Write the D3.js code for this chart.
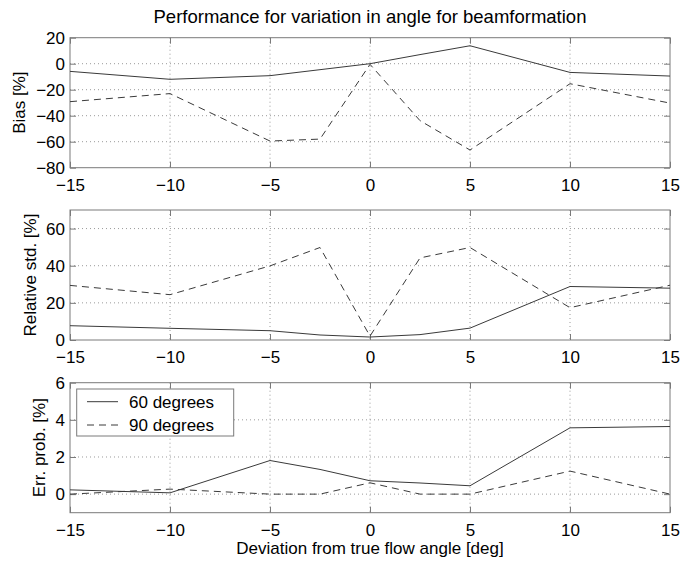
<!DOCTYPE html>
<html>
<head>
<meta charset="utf-8">
<script src="https://cdn.jsdelivr.net/npm/d3@7"></script>
<style>
  body { margin: 0; background: #fff; }
  text { font-family: "Liberation Sans", Arial, sans-serif; fill: #000; }
</style>
</head>
<body>
<svg id="chart" width="681" height="563"></svg>
<script>
// angles (deg) at which the runs were made
const angles = [-15, -10, -5, -2.5, 0, 2.5, 5, 10, 15];

// bias [%]
const bias60 = [-5.9, -12, -9.2, -4.6, 0, 7, 13.8, -6.7, -9.5];
const bias90 = [-29.2, -23, -59.5, -58, -0.5, -43.8, -66.4, -15.4, -30.3];

// relative std. [%]
const std60 = [7.7, 6.3, 5, 2.7, 1.6, 2.9, 6.4, 28.8, 27.9];
const std90 = [29.4, 24.4, 39.9, 49.8, 2.1, 44.2, 49.8, 17.4, 29.5];

// error probability [%]
const err60 = [0.23, 0.07, 1.81, 1.33, 0.72, 0.6, 0.45, 3.57, 3.64];
const err90 = [0, 0.27, 0, 0, 0.61, 0, 0, 1.24, 0];

const xTicks = [-15, -10, -5, 0, 5, 10, 15];
const seriesNames = ['60 degrees', '90 degrees'];

const panels = [
  { label: 'Bias [%]',          domain: [-80, 20], ticks: [-80, -60, -40, -20, 0, 20], a: bias60, b: bias90, top: 37.7, labelX: 25 },
  { label: 'Relative std. [%]', domain: [0, 70],   ticks: [0, 20, 40, 60],             a: std60,  b: std90,  top: 210,  labelX: 36 },
  { label: 'Err. prob. [%]',    domain: [-1, 6],   ticks: [0, 2, 4, 6],                a: err60,  b: err90,  top: 382.7, labelX: 45 }
];

const option =
  {
    left: 70,
    right: 670,
    height: 130,
    tick: 6,
    font: 17,
    axis: '#7a7a7a',
    grid: '#9a9a9a',
    line: '#3a3a3a',
    dash: '7,5'
  };

const fmt = d => d < 0 ? '\u2212' + Math.abs(d) : String(d);

const svg = d3.select('#chart');

const x = d3.scaleLinear().domain([-15, 15]).range([option.left, option.right]);

svg.append('text')
  .text('Performance for variation in angle for beamformation')
  .attr('x', (option.left + option.right) / 2)
  .attr('y', 23)
  .attr('font-size', 18.5)
  .attr('text-anchor', 'middle');

panels.forEach((p, k) =>
{
  const bottom = p.top + option.height;
  const y = d3.scaleLinear().domain(p.domain).range([bottom, p.top]);
  const g = svg.append('g');

  // dotted grid
  g.selectAll('line.gx')
    .data(xTicks.slice(1, -1))
    .join('line')
    .attr('x1', d => x(d)).attr('x2', d => x(d))
    .attr('y1', p.top).attr('y2', bottom)
    .attr('stroke', option.grid).attr('stroke-dasharray', '1,3');

  g.selectAll('line.gy')
    .data(p.ticks.filter(t => t > p.domain[0] && t < p.domain[1]))
    .join('line')
    .attr('x1', option.left).attr('x2', option.right)
    .attr('y1', d => y(d)).attr('y2', d => y(d))
    .attr('stroke', option.grid).attr('stroke-dasharray', '1,3');

  // axes, ticks inward, mirrored on the box
  const bx = g.append('g').attr('transform', `translate(0 ${ bottom })`)
    .call(d3.axisBottom(x).tickValues(xTicks).tickFormat(fmt).tickSizeInner(-option.tick).tickSizeOuter(0).tickPadding(11));
  const tx = g.append('g').attr('transform', `translate(0 ${ p.top })`)
    .call(d3.axisTop(x).tickValues(xTicks).tickFormat('').tickSizeInner(-option.tick).tickSizeOuter(0));
  const ly = g.append('g').attr('transform', `translate(${ option.left } 0)`)
    .call(d3.axisLeft(y).tickValues(p.ticks).tickFormat(fmt).tickSizeInner(-option.tick).tickSizeOuter(0).tickPadding(5));
  const ry = g.append('g').attr('transform', `translate(${ option.right } 0)`)
    .call(d3.axisRight(y).tickValues(p.ticks).tickFormat('').tickSizeInner(-option.tick).tickSizeOuter(0));

  [bx, tx, ly, ry].forEach(a =>
  {
    a.select('.domain').remove();
    a.selectAll('line').attr('stroke', option.axis);
    a.selectAll('text').attr('font-size', option.font).attr('fill', '#000')
      .attr('font-family', '"Liberation Sans", Arial, sans-serif');
  });

  g.append('rect')
    .attr('x', option.left).attr('y', p.top)
    .attr('width', option.right - option.left).attr('height', option.height)
    .attr('fill', 'none').attr('stroke', option.axis);

  const line = d3.line().x((d, i) => x(angles[i])).y(d => y(d));

  g.append('path').datum(p.a)
    .attr('d', line).attr('fill', 'none')
    .attr('stroke', option.line).attr('stroke-width', 1);

  g.append('path').datum(p.b)
    .attr('d', line).attr('fill', 'none')
    .attr('stroke', option.line).attr('stroke-width', 1)
    .attr('stroke-dasharray', option.dash);

  svg.append('text')
    .text(p.label)
    .attr('transform', `translate(${ p.labelX } ${ (p.top + bottom) / 2 }) rotate(-90)`)
    .attr('font-size', option.font)
    .attr('text-anchor', 'middle');
});

svg.append('text')
  .text('Deviation from true flow angle [deg]')
  .attr('x', (option.left + option.right) / 2)
  .attr('y', 554)
  .attr('font-size', option.font)
  .attr('text-anchor', 'middle');

// legend in the bottom panel
const legend = svg.append('g');

legend.append('rect')
  .attr('x', 76.7).attr('y', 389)
  .attr('width', 157).attr('height', 47)
  .attr('fill', '#fff').attr('stroke', option.axis);

seriesNames.forEach((name, i) =>
{
  const cy = 401.7 + i * 23.3;

  legend.append('line')
    .attr('x1', 87).attr('x2', 118)
    .attr('y1', cy).attr('y2', cy)
    .attr('stroke', option.line)
    .attr('stroke-dasharray', i ? option.dash : null);

  legend.append('text')
    .text(name)
    .attr('x', 129).attr('y', cy)
    .attr('dy', '0.35em')
    .attr('font-size', option.font);
});
</script>
</body>
</html>
